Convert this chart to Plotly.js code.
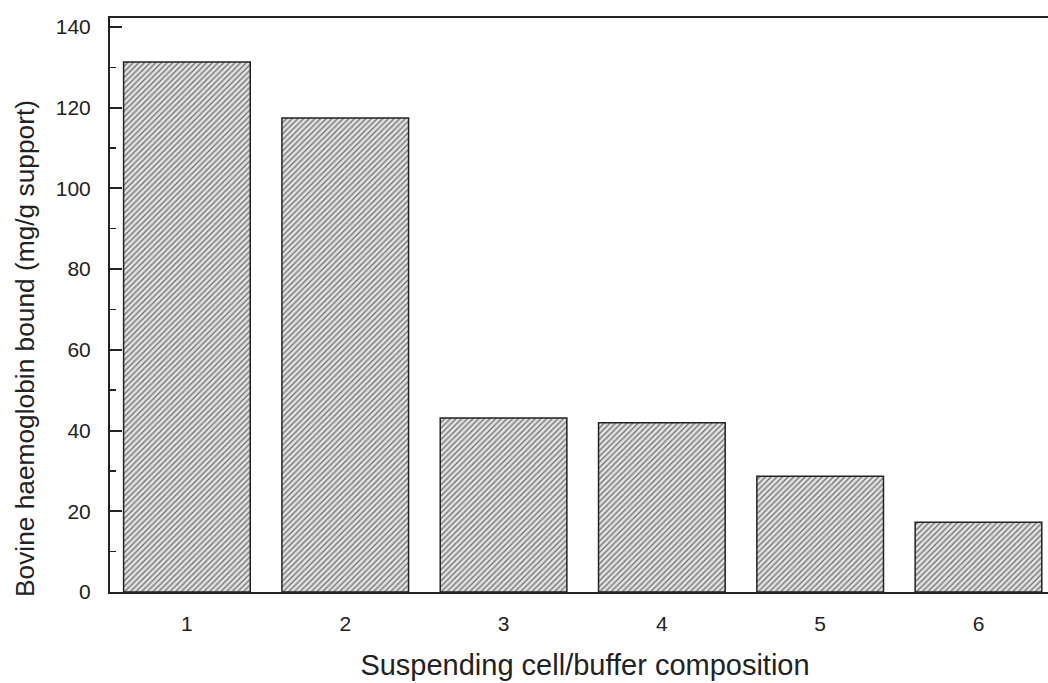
<!DOCTYPE html>
<html>
<head>
<meta charset="utf-8">
<script src="https://cdn.plot.ly/plotly-3.0.1.min.js"></script>
<style>
  html, body { margin: 0; padding: 0; background: #fff; overflow: hidden; }
  #chart { width: 1062px; height: 683px; }
</style>
</head>
<body>
<div id="chart"></div>
<script>
// Bound bovine haemoglobin for each suspending cell/buffer composition
const categories = [1, 2, 3, 4, 5, 6];
const tickLabels = ['1', '2', '3', '4', '5', '6'];
const boundHb = [131.3, 117.4, 43.1, 41.9, 28.7, 17.3];
const yTitle = 'Bovine haemoglobin bound (mg/g support)';
const xTitle = 'Suspending cell/buffer composition';

const trace = {
  type: 'bar',
  x: categories,
  y: boundHb,
  width: 0.8,
  marker: {
    color: '#dcdcdc',
    line: { color: '#222', width: 1.5 },
    pattern: { shape: '/', fgcolor: '#6a6a6a', bgcolor: '#e2e2e2', size: 4, solidity: 0.3 }
  },
  hoverinfo: 'x+y'
};

const layout = {
  width: 1062,
  height: 683,
  margin: { l: 110, r: 2, t: 18, b: 91 },
  paper_bgcolor: '#ffffff',
  plot_bgcolor: '#ffffff',
  showlegend: false,
  font: { family: 'Liberation Sans, Arial, sans-serif', color: '#222' },
  xaxis: {
    range: [0.514, 6.515],
    tickvals: categories,
    ticktext: tickLabels,
    ticks: '',
    showgrid: false,
    zeroline: false,
    showline: true,
    linecolor: '#222',
    linewidth: 2,
    mirror: true,
    ticklabelstandoff: 12,
    tickfont: { size: 21, color: '#222' },
    title: { text: xTitle, font: { size: 29, color: '#222' }, standoff: 20 }
  },
  yaxis: {
    range: [0, 142.2],
    tickvals: [0, 20, 40, 60, 80, 100, 120, 140],
    ticks: 'inside',
    ticklen: 12,
    tickwidth: 2,
    tickcolor: '#222',
    minor: { dtick: 10, tick0: 0, ticks: 'inside', ticklen: 6, tickwidth: 1.5, tickcolor: '#222', showgrid: false },
    showgrid: false,
    zeroline: false,
    showline: true,
    linecolor: '#222',
    linewidth: 2,
    ticklabelstandoff: 13,
    tickfont: { size: 21, color: '#222' }
  },
  annotations: [{
    text: yTitle,
    xref: 'paper', yref: 'paper',
    x: -0.0895, y: 0.425,
    xanchor: 'center', yanchor: 'middle',
    textangle: -90,
    showarrow: false,
    font: { size: 26.3, color: '#222' }
  }]
};

Plotly.newPlot('chart', [trace], layout, { displayModeBar: false, staticPlot: true });
</script>
</body>
</html>
